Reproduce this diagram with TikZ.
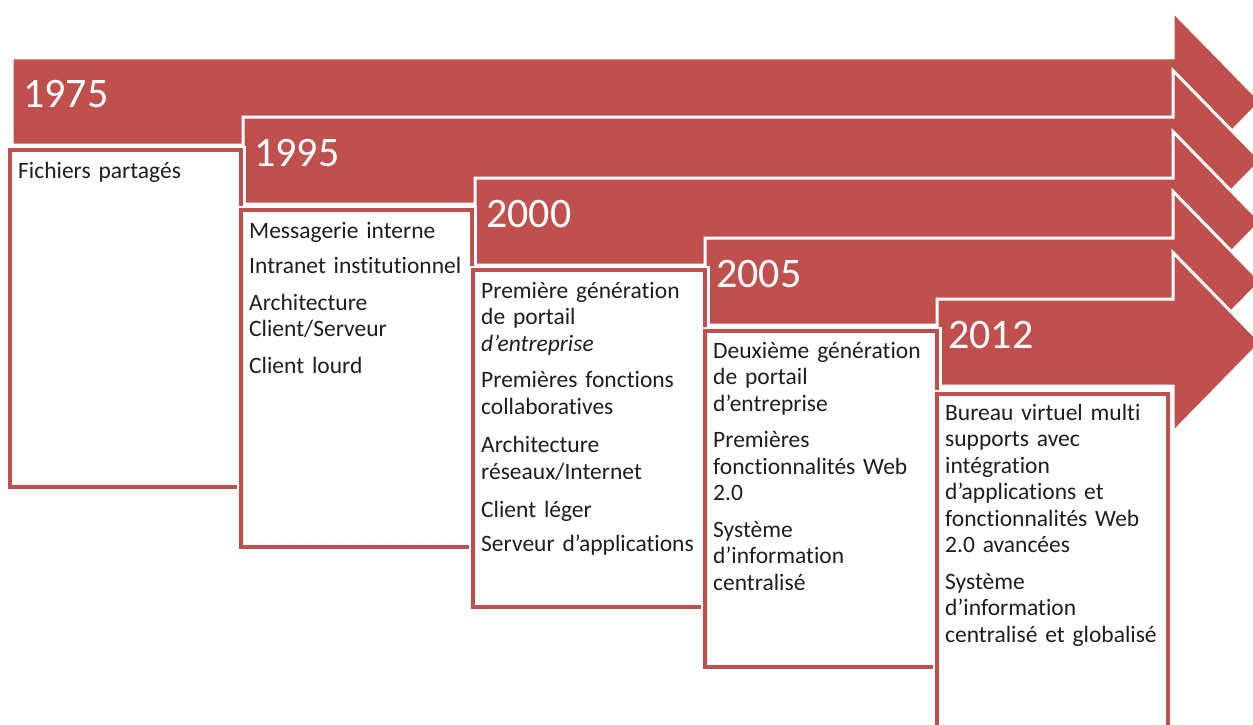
\documentclass[tikz,border=0pt]{standalone}
\usepackage{fontspec}
\setmainfont{Carlito}[Ligatures=NoCommon]
\definecolor{rosso}{HTML}{C0504D}
\definecolor{testo}{HTML}{1E1E1E}
\tikzset{
  freccia/.style={fill=rosso, draw=white, line width=3pt, line join=miter},
  riquadro/.style={draw=rosso, fill=white, line width=4pt, preaction={draw=white, line width=9pt}},
  anno/.style={anchor=base west, inner sep=0pt, text=white, font=\fontsize{42}{48}\selectfont},
  voci/.style={anchor=base west, inner sep=0pt, text=testo, text width=240pt, align=left,
    font=\fontsize{23.5}{26.5}\selectfont}
}
\begin{document}
\begin{tikzpicture}[x=1pt, y=-1pt]
        \clip (0,0) rectangle (1253,725);

        % Frecce degli anni
        \foreach \sx/\sy/\anno in {12/58/1975, 243/117/1995, 475/178/2000, 705/238/2005, 937/299/2012} {
          \draw[freccia] (\sx,\sy) -- (1173,\sy) -- (1173,\sy-46.5) -- (1261,\sy+43.5)
            -- (1173,\sy+133.5) -- (1173,\sy+87) -- (\sx,\sy+87) -- cycle;
          \node[anno] (a\anno) at (\sx+11,\sy+49) {\anno};
        }

        % Riquadri
        \draw[riquadro] (10,150) rectangle (241,487);
        \node[voci] (v1975) at (18,178) {Fichiers partagés};

        \draw[riquadro] (241,210) rectangle (472,547);
        \node[voci] (v1995) at (249,238) {Messagerie interne\\[9pt]
          Intranet institutionnel\\[10pt]
          Architecture\\Client/Serveur\\[10pt]
          Client lourd};

        \draw[riquadro] (473,270) rectangle (705,607);
        \node[voci] (v2000) at (481,298) {Première génération\\de portail\\\textit{d’entreprise}\\[10pt]
          Premières fonctions\\collaboratives\\[12pt]
          Architecture\\réseaux/Internet\\[12pt]
          Client léger\\[7pt]
          Serveur d’applications};

        \draw[riquadro] (705,331) rectangle (937,667);
        \node[voci] (v2005) at (713,358) {Deuxième génération\\de portail\\d’entreprise\\[10pt]
          Premières\\fonctionnalités Web\\2.0\\[10pt]
          Système\\d’information\\centralisé};

        \draw[riquadro] (937,394) rectangle (1168,740);
        \node[voci] (v2012) at (945,420) {Bureau virtuel multi\\supports avec\\intégration\\d’applications et\\fonctionnalités Web\\2.0 avancées\\[10pt]
          Système\\d’information\\centralisé et globalisé};
    \end{tikzpicture}
\end{document}
